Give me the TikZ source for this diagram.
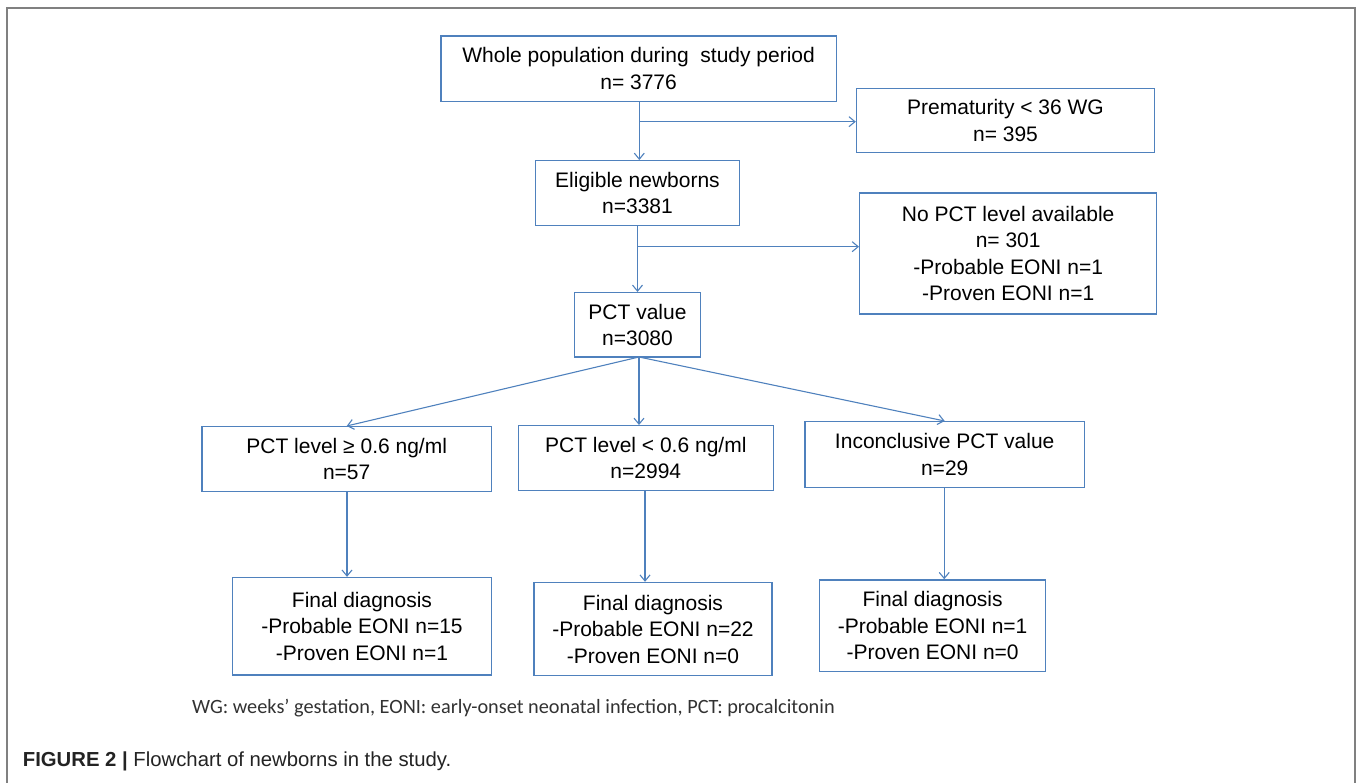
\documentclass[tikz,border=0pt]{standalone}
\usepackage{fontspec}
\setmainfont{Liberation Sans}
\newfontfamily\legendfont{Carlito}
\usetikzlibrary{arrows.meta}
\definecolor{boxblue}{RGB}{79,129,189}
\definecolor{framegray}{RGB}{128,128,128}
\definecolor{legendgray}{RGB}{50,50,50}
\definecolor{capgray}{RGB}{35,35,35}
\tikzset{
  fbox/.style={draw=boxblue, line width=1.4pt, rectangle, inner sep=0pt, align=center,
    font=\fontsize{21}{26.5}\selectfont, text=black},
  conn/.style={draw=boxblue, line width=1.1pt, -{Straight Barb[length=6pt,width=10pt,line width=1.1pt]}},
}
\begin{document}
\begin{tikzpicture}[x=1pt,y=-1pt]
\useasboundingbox (0,0) rectangle (1357,783);
% outer frame (no bottom line)
\draw[framegray, line width=2pt] (7.3,783) -- (7.3,8.3) -- (1355,8.3) -- (1355,783);

% boxes
\node[fbox, minimum width=395.3pt, minimum height=65.3pt] (whole) at (638.6,68.6) {Whole population during\ \ study period\\ n= 3776};
\node[fbox, minimum width=298pt, minimum height=64pt] (premat) at (1005.5,120.5) {Prematurity < 36 WG\\ n= 395};
\node[fbox, minimum width=204.3pt, minimum height=64.6pt] (elig) at (637.5,193) {Eligible newborns\\ n=3381};
\node[fbox, minimum width=297pt, minimum height=121pt] (nopct) at (1008.2,253.5) {No PCT level available\\ n= 301\\ -Probable EONI n=1\\ -Proven EONI n=1};
\node[fbox, minimum width=125.7pt, minimum height=64.3pt] (pct) at (637.5,324.8) {PCT value\\ n=3080};
\node[fbox, minimum width=289.7pt, minimum height=64.6pt] (lev1) at (346.7,459) {PCT level ≥ 0.6 ng/ml\\ n=57};
\node[fbox, minimum width=255pt, minimum height=64.6pt] (lev2) at (645.8,458) {PCT level < 0.6 ng/ml\\ n=2994};
\node[fbox, minimum width=279.8pt, minimum height=65.6pt] (lev3) at (944.7,454.5) {Inconclusive PCT value\\ n=29};
\node[fbox, minimum width=259pt, minimum height=97.5pt] (f1) at (362,626.3) {Final diagnosis\\ -Probable EONI n=15\\ -Proven EONI n=1};
\node[fbox, minimum width=238pt, minimum height=93pt] (f2) at (653,629) {Final diagnosis\\ -Probable EONI n=22\\ -Proven EONI n=0};
\node[fbox, minimum width=226pt, minimum height=91.7pt] (f3) at (932.6,625.8) {Final diagnosis\\ -Probable EONI n=1\\ -Proven EONI n=0};

% connector helper coordinates
\coordinate (v1) at (639.3,101.3);
\coordinate (b1) at (639.3,121.7);
\coordinate (b2) at (637.5,246.7);
\coordinate (p1) at (639,357);
\coordinate (d1) at (347,491.3);
\coordinate (d2) at (645,490.3);
\coordinate (d3) at (944.2,487.3);

% connectors
\draw[conn] (v1) -- (v1 |- elig.north);
\draw[conn] (b1) -- (b1 -| premat.west);
\draw[conn] (elig.south) -- (elig.south |- pct.north);
\draw[conn] (b2) -- (b2 -| nopct.west);
\draw[conn] (p1) -- (lev1.north);
\draw[conn] (p1) -- (p1 |- lev2.north);
\draw[conn] (p1) -- (lev3.north);
\draw[conn] (d1) -- (d1 |- f1.north);
\draw[conn] (d2) -- (d2 |- f2.north);
\draw[conn] (d3) -- (d3 |- f3.north);

% legend and caption
\node[anchor=west, inner sep=0pt, text=legendgray, font=\legendfont\fontsize{20.3}{24}\selectfont] (legend) at (192,708) {WG: weeks’ gestation, EONI: early-onset neonatal infection, PCT: procalcitonin};
\node[anchor=west, inner sep=0pt, text=capgray, font=\fontsize{20.3}{22}\selectfont] (caption) at (22.7,761) {\textbf{FIGURE 2 |} Flowchart of newborns in the study.};
\end{tikzpicture}
\end{document}
